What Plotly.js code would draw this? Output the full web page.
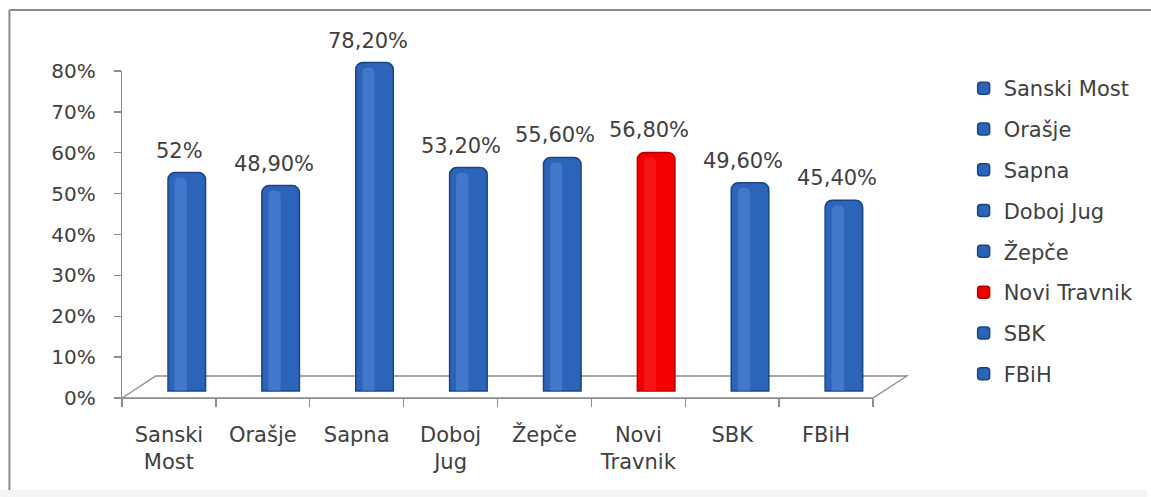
<!DOCTYPE html>
<html><head><meta charset="utf-8">
<script src="https://cdn.plot.ly/plotly-3.0.1.min.js"></script>
<style>html,body{margin:0;padding:0;background:#fff}#chart{width:1151px;height:497px}</style>
</head><body><div id="chart"></div>
<script>
// ---- data ----
const categories = ['Sanski Most', 'Orašje', 'Sapna', 'Doboj Jug', 'Žepče', 'Novi Travnik', 'SBK', 'FBiH'];
const tickLabels = ['Sanski<br>Most', 'Orašje', 'Sapna', 'Doboj<br>Jug', 'Žepče', 'Novi<br>Travnik', 'SBK', 'FBiH'];
const values = [52, 48.9, 78.2, 53.2, 55.6, 56.8, 49.6, 45.4];
const valueLabels = ['52%', '48,90%', '78,20%', '53,20%', '55,60%', '56,80%', '49,60%', '45,40%'];
const yTickVals = [0, 10, 20, 30, 40, 50, 60, 70, 80];
const yTickText = ['0%', '10%', '20%', '30%', '40%', '50%', '60%', '70%', '80%'];
const highlighted = 'Novi Travnik';

// ---- geometry (pixels) ----
const W = 1151, H = 497, L = 122, R = 876, T0 = 20, TY = 71, B = 398;
const px = x => (x - L) / (R - L);
const py = y => (B - y) / (B - T0);
const FONT = 'DejaVu Sans';
const TXT = '#404040';
const AX = '#8c8c8c';
const PXU = 4.2;                 // pixels per percent on the bar plane
const BASE = 391;                // pixel row of 0 % on the bar plane
const y2lo = -(B - BASE) / PXU;
const y2hi = y2lo + (B - T0) / PXU;

const traces = categories.map((c, i) => {
  const hot = c === highlighted;
  return {
    type: 'bar', x: [c], y: [values[i]], name: c,
    xaxis: 'x2', yaxis: 'y2', legendgroup: 'g' + i,
    width: 0.4, cliponaxis: false,
    marker: {color: hot ? '#f20000' : '#2c64b9', line: {color: hot ? '#b30000' : '#1a4585', width: 1.5}, cornerradius: 7},
    hoverinfo: 'x+y'
  };
});
// cylinder highlight
traces.push({
  type: 'bar', x: categories, y: values.map(v => v - 1.2), xaxis: 'x2', yaxis: 'y2',
  width: 0.13, offset: -0.13, showlegend: false, hoverinfo: 'skip', cliponaxis: false,
  marker: {color: categories.map(c => c === highlighted ? 'rgba(255,70,70,0.3)' : 'rgba(120,170,240,0.3)'), line: {width: 0}, cornerradius: 5}
});
// invisible helper so the front category axis knows its categories
traces.push({type: 'scatter', x: categories, y: values, mode: 'markers', marker: {opacity: 0}, showlegend: false, hoverinfo: 'skip', xaxis: 'x', yaxis: 'y'});

const annotations = categories.map((c, i) => ({
  x: c, y: values[i], xref: 'x2', yref: 'y2', text: valueLabels[i], showarrow: false,
  yanchor: 'bottom', yshift: 8, xshift: -7,
  font: {family: FONT, size: 21, color: TXT}
}));

const shapes = [
  // outer frame (top and left edges)
  {type: 'line', xref: 'paper', yref: 'paper', x0: px(9), x1: px(W + 20), y0: py(10), y1: py(10), line: {color: '#8a8a8a', width: 2}, layer: 'below'},
  {type: 'line', xref: 'paper', yref: 'paper', x0: px(9), x1: px(9), y0: py(10), y1: py(H + 20), line: {color: '#8a8a8a', width: 2}, layer: 'below'},
  // floor
  {type: 'path', xref: 'paper', yref: 'paper', layer: 'below',
   path: `M${px(L)},${py(B)} L${px(R)},${py(B)} L${px(910)},${py(376)} L${px(156)},${py(376)} Z`,
   fillcolor: '#ffffff', line: {color: AX, width: 1.3}},
  // faint band at bottom
  {type: 'rect', xref: 'paper', yref: 'paper', x0: px(0), x1: px(W), y0: py(H), y1: py(490), fillcolor: '#f5f5f5', line: {width: 0}, layer: 'below'}
];

const layout = {
  width: W, height: H,
  margin: {l: L, r: W - R, t: T0, b: H - B},
  paper_bgcolor: '#ffffff', plot_bgcolor: 'rgba(0,0,0,0)',
  barmode: 'overlay',
  showlegend: true,
  font: {family: FONT, color: TXT},
  xaxis: {
    type: 'category', categoryorder: 'array', categoryarray: categories,
    domain: [0, 1], anchor: 'y',
    range: [-0.5, categories.length - 0.5],
    tickmode: 'array', tickvals: categories, ticktext: tickLabels,
    tickson: 'boundaries', ticks: 'outside', ticklen: 8, tickcolor: AX, tickwidth: 1.3,
    showline: true, linecolor: AX, linewidth: 1.3, showgrid: false, zeroline: false,
    tickfont: {family: FONT, size: 21, color: TXT}, ticklabelstandoff: 17, fixedrange: true
  },
  yaxis: {
    domain: [0, (B - TY) / (B - T0)], anchor: 'x',
    range: [0, 80], tickmode: 'array', tickvals: yTickVals, ticktext: yTickText,
    ticks: 'outside', ticklen: 7, tickcolor: AX, tickwidth: 1.3,
    showline: true, linecolor: AX, linewidth: 1.3, showgrid: false, zeroline: false,
    tickfont: {family: FONT, size: 20, color: TXT}, ticklabelstandoff: 14, fixedrange: true
  },
  xaxis2: {
    type: 'category', categoryorder: 'array', categoryarray: categories,
    domain: [0, 1], anchor: 'y2',
    range: [-0.5 - 0.19, categories.length - 0.5 - 0.19], visible: false, fixedrange: true
  },
  yaxis2: {
    domain: [0, 1], anchor: 'x2', range: [y2lo, y2hi], visible: false, fixedrange: true
  },
  legend: {
    xref: 'paper', yref: 'paper', x: px(967), y: py(68), xanchor: 'left', yanchor: 'top',
    font: {family: FONT, size: 21, color: TXT}, tracegroupgap: 10.5, bgcolor: 'rgba(0,0,0,0)'
  },
  annotations, shapes
};

Plotly.newPlot('chart', traces, layout, {displayModeBar: false, staticPlot: true});
</script>
</body></html>
